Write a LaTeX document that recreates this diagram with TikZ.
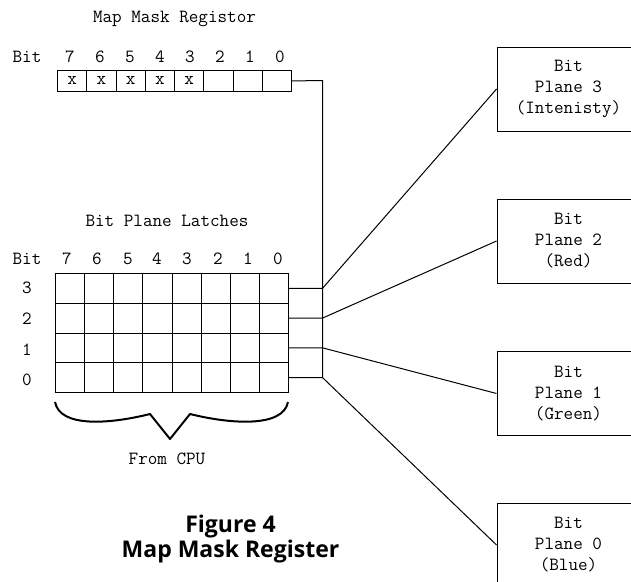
\documentclass[tikz,border=0pt]{standalone}
\usepackage{fontspec}
\newfontfamily\capfont{Open Sans}
\begin{document}
\begin{tikzpicture}[x=1pt,y=-1pt,
  mono/.style={font=\ttfamily\fontsize{18.6}{21}\selectfont, inner sep=0pt},
  regcell/.style={draw, line width=0.9pt, minimum width=29.25pt, minimum height=21pt, inner sep=0pt, anchor=north west, font=\ttfamily\fontsize{18.6}{21}\selectfont},
  latchcell/.style={draw, line width=0.9pt, minimum width=29.125pt, minimum height=29.75pt, inner sep=0pt, anchor=north west},
  plane/.style={draw, line width=0.9pt, minimum width=143pt, minimum height=84pt, align=center, font=\ttfamily\fontsize{18.6}{21}\selectfont},
  wire/.style={line width=1pt},
  brace/.style={line width=2pt, line join=round}]
\useasboundingbox (0,0) rectangle (631,581);
\clip (0,0) rectangle (631,581);

% Map mask register
\node[mono] (mtitle) at (174.5,19) {Map Mask Registor};
\node[mono] (mbit) at (27,57) {Bit};
\foreach \b/\x in {7/70,6/100,5/130,4/160,3/190,2/220,1/250,0/280}
  \node[mono] (md\b) at (\x,57) {\b};
\foreach \b in {7,6,5,4,3}
  \node[regcell] (m\b) at ({57+29.25*(7-\b)},70) {x};
\foreach \b in {2,1,0}
  \node[regcell] (m\b) at ({57+29.25*(7-\b)},70) {};

% Bit plane latches
\node[mono] (ltitle) at (167,221) {Bit Plane Latches};
\node[mono] (lbit) at (27,259) {Bit};
\foreach \b/\x in {7/67,6/97,5/128,4/157,3/187,2/218,1/248,0/278}
  \node[mono] (ld\b) at (\x,259) {\b};
\foreach \r/\y in {3/288,2/319,1/350,0/380}
  \node[mono] (lr\r) at (27,\y) {\r};
\foreach \r in {3,2,1,0}
  \foreach \b in {7,6,5,4,3,2,1,0}
    \node[latchcell] (l\r\b) at ({55+29.125*(7-\b)},{273+29.75*(3-\r)}) {};

% Bit plane boxes
\node[plane] (p3) at (568.5,89) {Bit\\Plane 3\\(Intenisty)};
\node[plane] (p2) at (568.5,241) {Bit\\Plane 2\\(Red)};
\node[plane] (p1) at (568.5,393.5) {Bit\\Plane 1\\(Green)};
\node[plane] (p0) at (568.5,545) {Bit\\Plane 0\\(Blue)};

% Bus
\coordinate (btop) at (322.5,80.5);
\foreach \r in {3,2,1,0}
  \path (l\r0.east) -| coordinate (b\r) (btop);
\draw[wire] (m0.east) -- (btop) -- (b0);
\foreach \r in {3,2,1,0}
  \draw[wire] (l\r0.east) -- (b\r) -- (p\r.west);

% Brace
\coordinate (brl) at (55,402);
\coordinate (brr) at (288,402);
\coordinate (brt) at (170,439);
\draw[brace] (brl) .. controls (60,428) and (110,424) .. (150,414) -- (brt) -- (190,414) .. controls (230,424) and (283,428) .. (brr);
\node[mono] (cpu) at (167,459) {From CPU};

% Caption
\node[font=\capfont\bfseries\fontsize{23}{25}\selectfont, align=center, inner sep=0pt] (cap) at (230.5,539.5) {Figure 4\\Map Mask Register};
\end{tikzpicture}
\end{document}
